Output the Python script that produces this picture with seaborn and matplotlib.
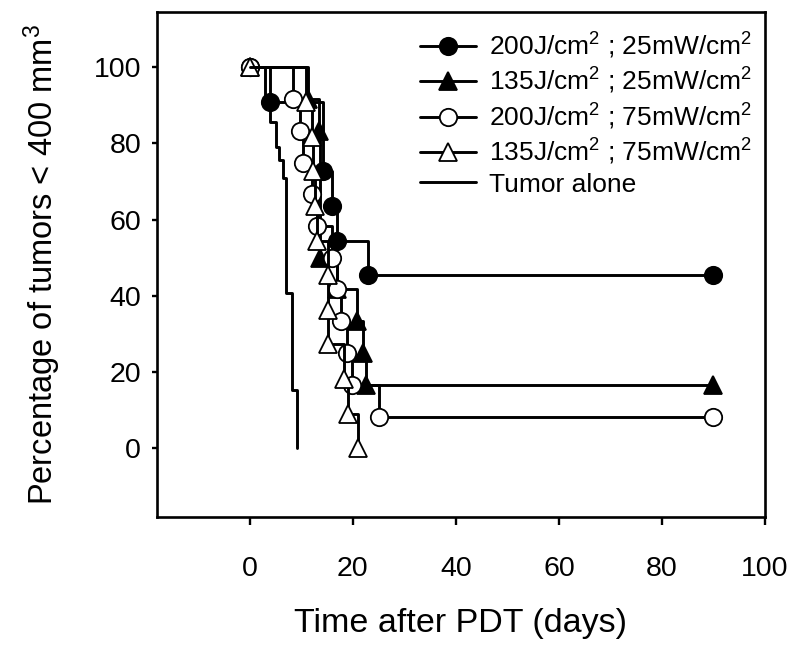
import matplotlib
matplotlib.use("Agg")
import matplotlib.pyplot as plt
import seaborn as sns

# Kaplan-Meier style data (days after PDT, % tumors < 400 mm3)
DAYS_200_25 = [0, 4, 14.2, 16, 16.9, 23, 90]
SURV_200_25 = [100, 90.9, 72.7, 63.6, 54.5, 45.5, 45.5]

DAYS_135_25 = [0, 11.3, 13.5, 13.6, 17, 20.8, 22, 22.6, 90]
SURV_135_25 = [100, 91.7, 83.3, 50, 41.7, 33.3, 25, 16.7, 16.7]

DAYS_200_75 = [0, 8.4, 9.7, 10.4, 12, 13, 15.9, 16.9, 17.8, 18.9, 19.8, 25, 90]
SURV_200_75 = [100, 91.7, 83.3, 75, 66.7, 58.3, 50, 41.7, 33.3, 25, 16.7, 8.3, 8.3]

DAYS_135_75 = [0, 11, 12, 12.3, 12.6, 13, 15.2, 15.2, 15.2, 18.2, 19.1, 21.1]
SURV_135_75 = [100, 90.9, 81.8, 72.7, 63.6, 54.5, 45.5, 36.4, 27.3, 18.2, 9.1, 0]

DAYS_TUMOR = [0, 3, 4, 5, 5.7, 6.5, 7, 8.2, 9.2]
SURV_TUMOR = [100, 91.3, 85.7, 79.1, 75.6, 70.9, 40.7, 15.2, 0]

LABELS = [
    "200J/cm$^2$ ; 25mW/cm$^2$",
    "135J/cm$^2$ ; 25mW/cm$^2$",
    "200J/cm$^2$ ; 75mW/cm$^2$",
    "135J/cm$^2$ ; 75mW/cm$^2$",
    "Tumor alone",
]
X_TICKS = [0, 20, 40, 60, 80, 100]
Y_TICKS = [0, 20, 40, 60, 80, 100]

sns.set_theme(style="ticks")
plt.rcParams["font.family"] = ["Liberation Sans", "DejaVu Sans"]
plt.rcParams["mathtext.default"] = "regular"
plt.rcParams["text.color"] = "black"
plt.rcParams["axes.labelcolor"] = "black"
plt.rcParams["xtick.color"] = "black"
plt.rcParams["ytick.color"] = "black"

fig = plt.figure(figsize=(8, 6.52), dpi=100)
ax = fig.add_axes([157 / 800, 1 - 517 / 652, 608 / 800, 505 / 652])

series = [
    (DAYS_200_25, SURV_200_25, "o", "black"),
    (DAYS_135_25, SURV_135_25, "^", "black"),
    (DAYS_200_75, SURV_200_75, "o", "white"),
    (DAYS_135_75, SURV_135_75, "^", "white"),
]
for (days, surv, mk, face), label in zip(series, LABELS[:4]):
    sns.lineplot(x=days, y=surv, ax=ax, estimator=None, sort=False,
                 drawstyle="steps-post", color="black", linewidth=2.1,
                 marker=mk, markersize=12.5, markerfacecolor=face,
                 markeredgecolor="black", markeredgewidth=1.3, label=label)

sns.lineplot(x=DAYS_TUMOR, y=SURV_TUMOR, ax=ax, estimator=None, sort=False,
             drawstyle="steps-post", color="black", linewidth=2.1, label=LABELS[4])

ax.set_xlim(-18, 100)
ax.set_ylim(-18, 114.5)
ax.set_xticks(X_TICKS)
ax.set_yticks(Y_TICKS)
ax.tick_params(axis="x", direction="out", length=6, width=1.7, pad=22, labelsize=20.5)
ax.tick_params(axis="y", direction="out", length=3.5, width=1.7, pad=8, labelsize=20.5)
for sp in ax.spines.values():
    sp.set_linewidth(1.9)
    sp.set_color("black")

ax.set_xlabel("Time after PDT (days)", fontsize=24.5, labelpad=19)
ax.set_ylabel("Percentage of tumors < 400 mm$^3$", fontsize=23.5, labelpad=22)

ax.legend(loc="upper left", bbox_to_anchor=(0.433, 0.963), frameon=False,
          fontsize=19, handlelength=2.1, handletextpad=0.5, labelspacing=0.2,
          borderpad=0, borderaxespad=0)

fig.savefig("out.png", dpi=100)
